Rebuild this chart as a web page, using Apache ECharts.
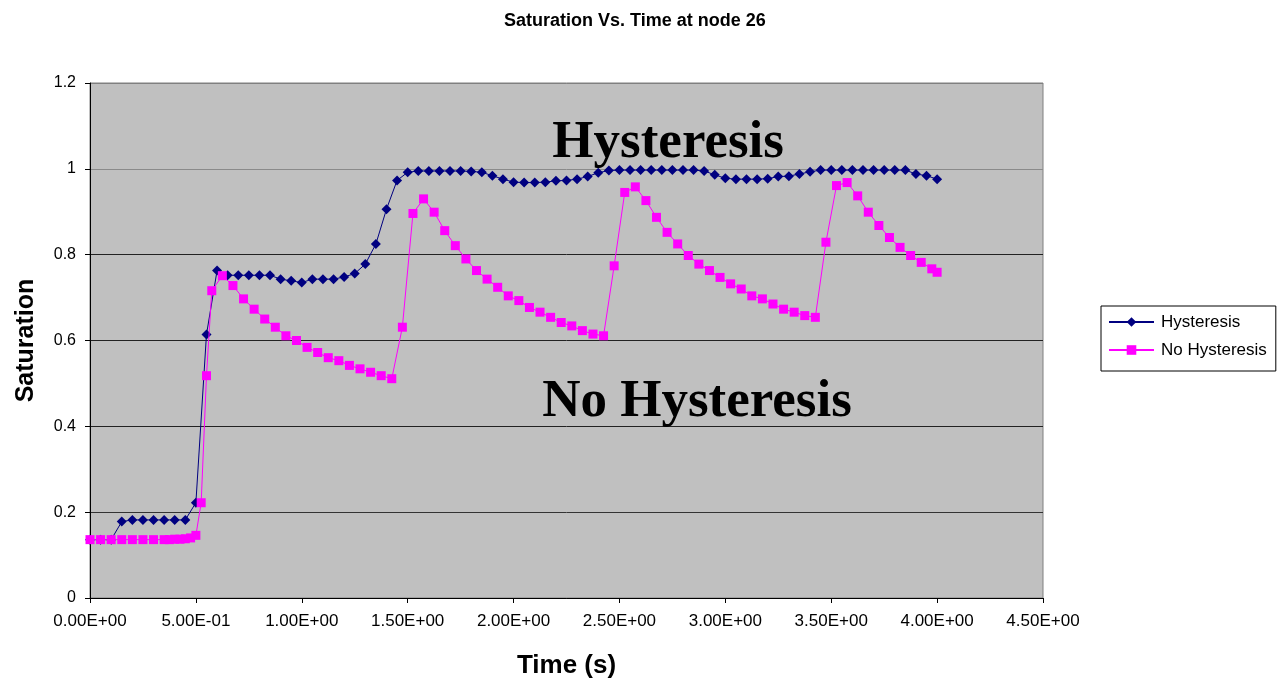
<!DOCTYPE html>
<html>
<head>
<meta charset="utf-8">
<title>Saturation Vs. Time at node 26</title>
<script src="https://cdn.jsdelivr.net/npm/echarts@6/dist/echarts.min.js"></script>
<style>
  html, body { margin: 0; padding: 0; background: #ffffff; }
  #chart { width: 1277px; height: 681px; }
</style>
</head>
<body>
<div id="chart"></div>
<script>
// Saturation at node 26, with hysteresis (fixed 0.05 s output steps)
const hysTime = [
  0.00, 0.05, 0.10, 0.15, 0.20, 0.25, 0.30, 0.35, 0.40, 0.45,
  0.50, 0.55, 0.60, 0.65, 0.70, 0.75, 0.80, 0.85, 0.90, 0.95,
  1.00, 1.05, 1.10, 1.15, 1.20, 1.25, 1.30, 1.35, 1.40, 1.45,
  1.50, 1.55, 1.60, 1.65, 1.70, 1.75, 1.80, 1.85, 1.90, 1.95,
  2.00, 2.05, 2.10, 2.15, 2.20, 2.25, 2.30, 2.35, 2.40, 2.45,
  2.50, 2.55, 2.60, 2.65, 2.70, 2.75, 2.80, 2.85, 2.90, 2.95,
  3.00, 3.05, 3.10, 3.15, 3.20, 3.25, 3.30, 3.35, 3.40, 3.45,
  3.50, 3.55, 3.60, 3.65, 3.70, 3.75, 3.80, 3.85, 3.90, 3.95,
  4.00
];
const hysSat = [
  0.136, 0.136, 0.136, 0.178, 0.182, 0.182, 0.182, 0.182, 0.182, 0.182,
  0.222, 0.614, 0.763, 0.752, 0.752, 0.752, 0.752, 0.752, 0.743, 0.739,
  0.735, 0.743, 0.743, 0.743, 0.748, 0.756, 0.778, 0.825, 0.906, 0.973,
  0.992, 0.995, 0.995, 0.995, 0.995, 0.995, 0.994, 0.992, 0.984, 0.976,
  0.969, 0.968, 0.968, 0.969, 0.972, 0.973, 0.976, 0.982, 0.991, 0.996,
  0.997, 0.997, 0.997, 0.997, 0.997, 0.997, 0.997, 0.997, 0.995, 0.986,
  0.978, 0.976, 0.976, 0.976, 0.977, 0.982, 0.983, 0.988, 0.993, 0.997,
  0.997, 0.997, 0.997, 0.997, 0.997, 0.997, 0.997, 0.997, 0.988, 0.984,
  0.976
];

// Saturation at node 26, without hysteresis (its own output times)
const noHysTime = [
  0.000, 0.050, 0.100, 0.150, 0.200, 0.250, 0.300, 0.350, 0.375, 0.400,
  0.425, 0.450, 0.475, 0.500, 0.525, 0.550, 0.575, 0.625, 0.675, 0.725,
  0.775, 0.825, 0.875, 0.925, 0.975, 1.025, 1.075, 1.125, 1.175, 1.225,
  1.275, 1.325, 1.375, 1.425, 1.475, 1.525, 1.575, 1.625, 1.675, 1.725,
  1.775, 1.825, 1.875, 1.925, 1.975, 2.025, 2.075, 2.125, 2.175, 2.225,
  2.275, 2.325, 2.375, 2.425, 2.475, 2.525, 2.575, 2.625, 2.675, 2.725,
  2.775, 2.825, 2.875, 2.925, 2.975, 3.025, 3.075, 3.125, 3.175, 3.225,
  3.275, 3.325, 3.375, 3.425, 3.475, 3.525, 3.575, 3.625, 3.675, 3.725,
  3.775, 3.825, 3.875, 3.925, 3.975, 4.000
];
const noHysSat = [
  0.136, 0.136, 0.136, 0.136, 0.136, 0.136, 0.136, 0.136, 0.136, 0.137,
  0.137, 0.138, 0.140, 0.146, 0.222, 0.518, 0.716, 0.751, 0.728, 0.697,
  0.673, 0.650, 0.631, 0.611, 0.600, 0.584, 0.572, 0.560, 0.553, 0.542,
  0.534, 0.526, 0.518, 0.511, 0.631, 0.896, 0.930, 0.899, 0.856, 0.821,
  0.790, 0.763, 0.743, 0.724, 0.704, 0.693, 0.677, 0.666, 0.654, 0.642,
  0.634, 0.623, 0.615, 0.611, 0.774, 0.945, 0.958, 0.926, 0.887, 0.852,
  0.825, 0.798, 0.778, 0.763, 0.747, 0.732, 0.720, 0.704, 0.697, 0.685,
  0.673, 0.666, 0.658, 0.654, 0.829, 0.961, 0.968, 0.937, 0.899, 0.868,
  0.840, 0.817, 0.798, 0.782, 0.767, 0.759
];

const seriesNames = ['Hysteresis', 'No Hysteresis'];
const titleText = 'Saturation Vs. Time at node 26';
const xAxisName = 'Time (s)';
const yAxisName = 'Saturation';

// In-plot annotations: text and the data point each is centred on
const annotations = [
  { text: 'Hysteresis', at: [2.73, 1.06] },
  { text: 'No Hysteresis', at: [2.866, 0.457] }
];

const pairs = (xs, ys) => xs.map((x, i) => [x, ys[i]]);

// 5.00E-01 style tick labels
function sciLabel(v) {
  const s = Number(v).toExponential(2);        // e.g. "5.00e-1"
  const m = s.match(/^(-?[\d.]+)e([+-])(\d+)$/);
  if (!m) return s;
  return m[1] + 'E' + m[2] + (m[3].length < 2 ? '0' + m[3] : m[3]);
}

const SANS = '"Liberation Sans", Arial, sans-serif';
const SERIF = '"Liberation Serif", "Times New Roman", serif';

const chart = echarts.init(document.getElementById('chart'), null, { renderer: 'canvas' });

const option = {
  animation: false,
  backgroundColor: '#ffffff',
  title: {
    text: titleText,
    left: 499,
    top: 7,
    textStyle: { fontFamily: SANS, fontSize: 18, fontWeight: 'bold', color: '#000' }
  },
  grid: {
    left: 90, right: 234, top: 83, bottom: 83,
    outerBoundsMode: 'none',
    containLabel: false,
    show: true,
    backgroundColor: '#c0c0c0',
    borderColor: '#808080',
    borderWidth: 1
  },
  legend: {
    orient: 'vertical',
    left: 1101,
    top: 306,
    padding: [7, 9, 12, 7],
    itemGap: 10,
    itemWidth: 45,
    itemHeight: 12,
    backgroundColor: '#ffffff',
    borderColor: '#000000',
    borderWidth: 1,
    borderRadius: 0,
    data: seriesNames,
    textStyle: { fontFamily: SANS, fontSize: 17, lineHeight: 18, color: '#000', padding: [0, 0, 0, 2] }
  },
  xAxis: {
    type: 'value',
    min: 0, max: 4.5, interval: 0.5,
    name: xAxisName,
    nameLocation: 'middle',
    nameGap: 55,
    nameTextStyle: { fontFamily: SANS, fontSize: 26, fontWeight: 'bold', color: '#000' },
    axisLine: { show: true, onZero: false, lineStyle: { color: '#000', width: 1 } },
    axisTick: { show: true, inside: false, length: 5, lineStyle: { color: '#000' } },
    axisLabel: {
      formatter: sciLabel,
      fontFamily: SANS, fontSize: 17, color: '#000', margin: 15
    },
    splitLine: { show: false }
  },
  yAxis: {
    type: 'value',
    min: 0, max: 1.2, interval: 0.2,
    name: yAxisName,
    nameLocation: 'middle',
    nameGap: 51,
    nameRotate: 90,
    nameTextStyle: { fontFamily: SANS, fontSize: 25, fontWeight: 'bold', color: '#000' },
    axisLine: { show: true, onZero: false, lineStyle: { color: '#000', width: 1 } },
    axisTick: { show: true, inside: false, length: 5, lineStyle: { color: '#000' } },
    axisLabel: {
      formatter: v => String(Math.round(v * 10) / 10),
      fontFamily: SANS, fontSize: 16, color: '#000', margin: 14
    },
    splitLine: {
      show: true,
      lineStyle: {
        // one colour per gridline from 0 up to 1.2
        color: ['#222222', '#333333', '#222222', '#222222', '#222222', '#8a8a8a', '#808080'],
        width: 1
      }
    }
  },
  series: [
    {
      name: seriesNames[0],
      type: 'line',
      data: pairs(hysTime, hysSat),
      symbol: 'diamond',
      symbolSize: [10, 10],
      showAllSymbol: true,
      lineStyle: { color: '#000080', width: 1 },
      itemStyle: { color: '#000080', borderWidth: 0 },
      emphasis: { disabled: true },
      z: 3
    },
    {
      name: seriesNames[1],
      type: 'line',
      data: pairs(noHysTime, noHysSat),
      symbol: 'rect',
      symbolSize: 9,
      showAllSymbol: true,
      lineStyle: { color: '#ff00ff', width: 1 },
      itemStyle: { color: '#ff00ff', borderWidth: 0 },
      emphasis: { disabled: true },
      z: 4
    }
  ]
};

chart.setOption(option);

// Place the large labels at their data coordinates
chart.setOption({
  graphic: annotations.map(a => {
    const p = chart.convertToPixel({ gridIndex: 0 }, a.at);
    return {
      type: 'text',
      x: p[0],
      y: p[1],
      z: 10,
      style: {
        text: a.text,
        fill: '#000',
        font: 'bold 53px ' + SERIF,
        align: 'center',
        verticalAlign: 'middle'
      }
    };
  })
});
</script>
</body>
</html>
